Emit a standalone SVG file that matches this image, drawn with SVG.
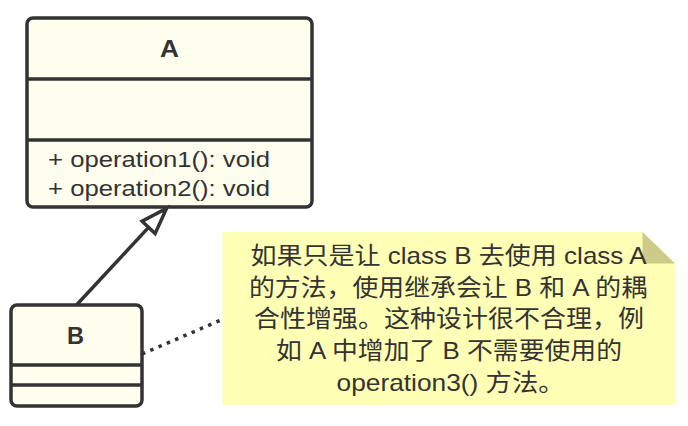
<svg xmlns="http://www.w3.org/2000/svg" width="688" height="426" viewBox="0 0 688 426">
<style>
.cls{fill:#fefeee;stroke:#333333;stroke-width:3.5}
.sep{stroke:#333333;stroke-width:3.5}
.title{font-family:"Liberation Sans",Arial,sans-serif;font-weight:bold;font-size:24px;fill:#333333;text-anchor:middle}
.op{font-family:"Liberation Sans",Arial,sans-serif;font-size:21.5px;fill:#333333}
.note{font-family:"Liberation Sans","Noto Sans CJK SC",sans-serif;font-size:24px;fill:#333333}
.edge{stroke:#333333;stroke-width:3.5;fill:none}
</style>
<rect width="688" height="426" fill="#ffffff"/>
<g id="classA">
<rect class="cls" x="27" y="18" width="285" height="189" rx="6"/>
<line class="sep" x1="27" y1="79" x2="312" y2="79"/>
<line class="sep" x1="27" y1="140" x2="312" y2="140"/>
<text class="title" x="169.5" y="57" textLength="19" lengthAdjust="spacingAndGlyphs">A</text>
<text class="op" x="48" y="166.5" textLength="222" lengthAdjust="spacingAndGlyphs">+ operation1(): void</text>
<text class="op" x="48" y="195.5" textLength="222" lengthAdjust="spacingAndGlyphs">+ operation2(): void</text>
</g>
<g id="classB">
<rect class="cls" x="11" y="305" width="131" height="101" rx="6"/>
<line class="sep" x1="11" y1="365" x2="142" y2="365"/>
<line class="sep" x1="11" y1="385" x2="142" y2="385"/>
<text class="title" x="75.5" y="344" textLength="17" lengthAdjust="spacingAndGlyphs">B</text>
</g>
<g id="note">
<polygon points="222.5,232 642.5,232 675,263.5 675,405 222.5,405" fill="#ffffb5"/>
<polygon points="642.5,232 642.5,263.5 675,263.5" fill="#cccc88"/>
<text class="note" x="250.5" y="263.5" textLength="396" lengthAdjust="spacingAndGlyphs">如果只是让 class B 去使用 class A</text>
<text class="note" x="249" y="295.5" textLength="398" lengthAdjust="spacingAndGlyphs">的方法，使用继承会让 B 和 A 的耦</text>
<text class="note" x="254" y="327" textLength="390" lengthAdjust="spacingAndGlyphs">合性增强。这种设计很不合理，例</text>
<text class="note" x="276" y="358.5" textLength="346" lengthAdjust="spacingAndGlyphs">如 A 中增加了 B 不需要使用的</text>
<text class="note" x="336.5" y="391" textLength="228" lengthAdjust="spacingAndGlyphs">operation3() 方法。</text>
</g>
<g id="connectors">
<line class="edge" x1="76.5" y1="305" x2="148.6" y2="227.4"/>
<polygon class="edge" points="166.5,208.5 155.1,233.6 142.1,221.2" fill="#ffffff" stroke-linejoin="miter"/>
<line x1="142" y1="354" x2="221" y2="320" stroke="#333333" stroke-width="3.5" stroke-dasharray="3.5 5.5"/>
</g>
</svg>
